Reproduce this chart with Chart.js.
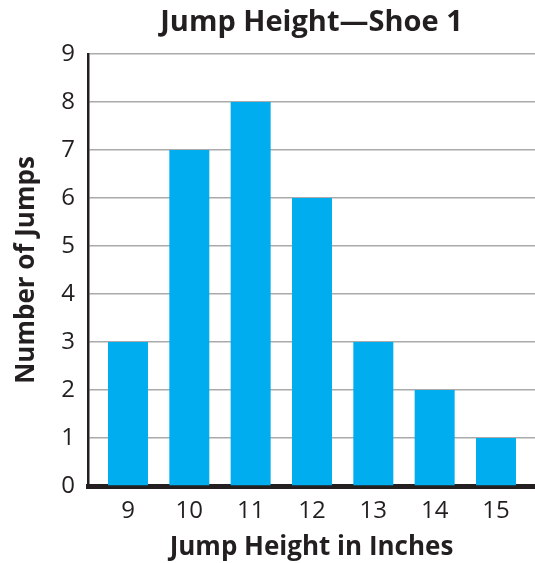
<!DOCTYPE html>
<html>
<head>
<meta charset="utf-8">
<script src="https://cdn.jsdelivr.net/npm/chart.js@4"></script>
<style>
  html, body { margin: 0; padding: 0; background: #fff; }
  #wrap { width: 535px; height: 563px; }
</style>
</head>
<body>
<div id="wrap"><canvas id="jumps"></canvas></div>
<script>
// Jump heights (inches) and how many jumps landed at each
const HEIGHTS = [9, 10, 11, 12, 13, 14, 15];
const JUMPS = [3, 7, 8, 6, 3, 2, 1];
const Y_TICKS = [0, 1, 2, 3, 4, 5, 6, 7, 8, 9];

const TEXT = '#231f20';
const FONT = '"Open Sans", "DejaVu Sans", sans-serif';

const points = HEIGHTS.map((h, i) => ({ x: h, y: JUMPS[i] }));

const config = {
  type: 'bar',
  data: {
    datasets: [{
      data: points,
      xAxisID: 'x',
      yAxisID: 'y',
      backgroundColor: '#00aeef',
      borderWidth: 0,
      categoryPercentage: 1,
      barPercentage: 0.652
    }]
  },
  options: {
    responsive: false,
    animation: false,
    layout: { padding: 0 },
    plugins: {
      legend: { display: false },
      tooltip: { enabled: false },
      title: { display: false }
    },
    scales: {
      x: {
        type: 'linear',
        position: 'bottom',
        min: 8.348,
        max: 15.636,
        offset: false,
        z: 1,
        grid: { display: false, offset: false },
        border: { display: true, color: '#231f20', width: 5 },
        afterBuildTicks: s => { s.ticks = HEIGHTS.map(v => ({ value: v })); },
        ticks: {
          color: TEXT,
          font: { family: FONT, size: 24 },
          padding: 3,
          callback: v => String(v)
        },
        title: {
          display: true,
          text: 'Jump Height in Inches',
          color: TEXT,
          font: { family: FONT, size: 26, weight: 'bold' },
          padding: { top: 0, bottom: 0 }
        },
        afterFit: s => { s.height = 77; }
      },
      // top axis only carries the chart title, centred over the plot
      titleAxis: {
        type: 'linear',
        axis: 'x',
        position: 'top',
        min: 0,
        max: 1,
        offset: false,
        grid: { display: false },
        border: { display: false },
        ticks: { display: false },
        title: {
          display: true,
          text: 'Jump Height\u2014Shoe 1',
          color: TEXT,
          font: { family: FONT, size: 29, weight: 'bold' },
          padding: { top: 5, bottom: 0 }
        },
        afterFit: s => { s.height = 54; }
      },
      y: {
        min: 0,
        max: 9,
        afterBuildTicks: s => { s.ticks = Y_TICKS.map(v => ({ value: v })); },
        grid: { color: '#aaaaaa', lineWidth: 1.5, drawTicks: false },
        border: { display: true, color: '#231f20', width: 2.5 },
        ticks: {
          color: TEXT,
          font: { family: FONT, size: 24 },
          padding: 13
        },
        title: {
          display: true,
          text: 'Number of Jumps',
          color: TEXT,
          font: { family: FONT, size: 26, weight: 'bold' },
          padding: { top: 11, bottom: 0 }
        },
        afterFit: s => { s.width = 88; }
      }
    }
  }
};

const canvas = document.getElementById('jumps');
canvas.width = 535;
canvas.height = 563;
new Chart(canvas.getContext('2d'), config);
</script>
</body>
</html>
